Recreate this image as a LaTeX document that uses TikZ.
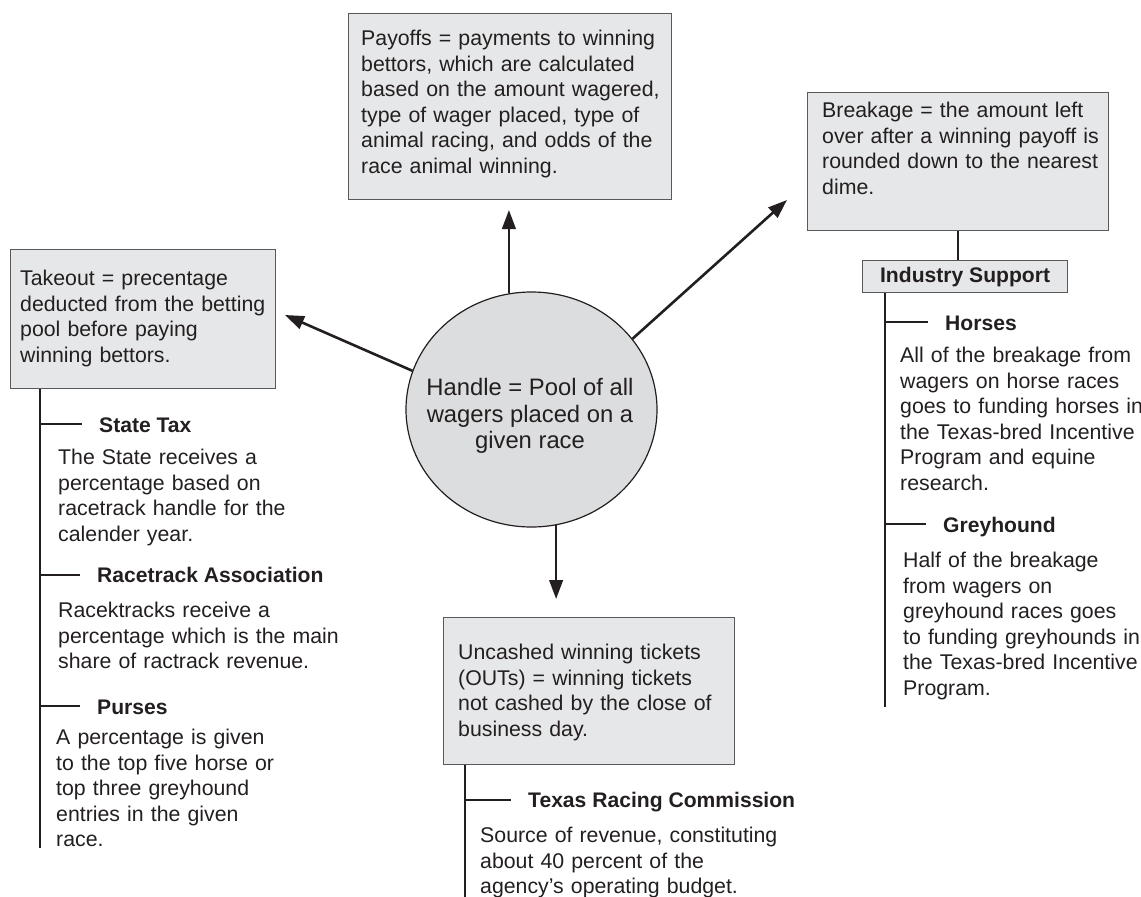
\documentclass[tikz,border=0pt]{standalone}
\usepackage{fontspec}
\setmainfont{Liberation Sans}
\usetikzlibrary{arrows.meta,shapes.geometric}
\definecolor{ink}{HTML}{231F20}
\definecolor{boxfill}{HTML}{E6E7E8}
\definecolor{hubfill}{HTML}{DCDDDE}
\definecolor{boxline}{HTML}{58595B}

\begin{document}
\begin{tikzpicture}[x=1pt, y=-1pt,
		box/.style={draw=boxline, fill=boxfill, line width=1.2pt, anchor=north west, inner sep=0, text=ink},
		txt/.style={anchor=base west, inner sep=0, align=left, text width=330pt, text=ink, font=\fontsize{21.3}{25.5}\selectfont},
		lbl/.style={anchor=base west, inner sep=0, text height=15.3pt, text depth=0pt, text=ink, font=\fontsize{21.1}{25}\selectfont\bfseries},
		arr/.style={-{Triangle[length=19pt, width=13.5pt]}, line width=2.6pt, draw=ink},
		tree/.style={line width=2pt, draw=ink},
		branch/.style={tree, shorten >=17pt}]
		\useasboundingbox (0,0) rectangle (1141,897);

		\node[box, minimum width=265pt, minimum height=139pt] (takeout) at (10,249) {};
		\node[box, minimum width=323pt, minimum height=186pt] (payoffs) at (348,13) {};
		\node[box, minimum width=301pt, minimum height=138pt] (breakage) at (807,92) {};
		\node[box, minimum width=291pt, minimum height=147pt] (uncashed) at (443,617) {};
		\node[box, minimum width=205pt, minimum height=32pt, font=\fontsize{21.1}{25}\selectfont\bfseries] (industry) at (862,260) {Industry Support};
		\node[ellipse, draw=ink, fill=hubfill, line width=1.2pt, minimum width=251pt, minimum height=235pt] (handle) at (531.5,409.5) {};

		\node[txt] (takeouttxt) at (20,285.5) {Takeout = precentage\\deducted from the betting\\pool before paying\\winning bettors.};
		\node[txt] (payoffstxt) at (361,45.5) {Payoffs = payments to winning\\bettors, which are calculated\\based on the amount wagered,\\type of wager placed, type of\\animal racing, and odds of the\\race animal winning.};
		\node[txt] (breakagetxt) at (822,117.5) {Breakage = the amount left\\over after a winning payoff is\\rounded down to the nearest\\dime.};
		\node[txt] (uncashedtxt) at (458,659.5) {Uncashed winning tickets\\(OUTs) = winning tickets\\not cashed by the close of\\business day.};
		\node[align=center, inner sep=0, text=ink, font=\fontsize{23.8}{26.5}\selectfont] (handletxt) at (530,416) {Handle = Pool of all\\wagers placed on a\\given race};

		\node[lbl] (statetax) at (99,432) {State Tax};
		\node[txt] (statetaxtxt) at (58,464.5) {The State receives a\\percentage based on\\racetrack handle for the\\calender year.};
		\node[lbl] (racetrack) at (97,582.5) {Racetrack Association};
		\node[txt] (racetracktxt) at (58,617.5) {Racektracks receive a\\percentage which is the main\\share of ractrack revenue.};
		\node[lbl] (purses) at (97,714) {Purses};
		\node[txt] (pursestxt) at (56,744.5) {A percentage is given\\to the top five horse or\\top three greyhound\\entries in the given\\race.};

		\node[lbl] (horses) at (945,330) {Horses};
		\node[txt] (horsestxt) at (900,362.5) {All of the breakage from\\wagers on horse races\\goes to funding horses in\\the Texas-bred Incentive\\Program and equine\\research.};
		\node[lbl] (greyhound) at (943,532) {Greyhound};
		\node[txt] (greyhoundtxt) at (903,567.5) {Half of the breakage\\from wagers on\\greyhound races goes\\to funding greyhounds in\\the Texas-bred Incentive\\Program.};

		\node[lbl] (commission) at (528,807.5) {Texas Racing Commission};
		\node[txt] (commissiontxt) at (480,842.5) {Source of revenue, constituting\\about 40 percent of the\\agency’s operating budget.};

		\coordinate (uptip) at (508,210);
		\coordinate (lefttip) at (285,315);
		\coordinate (righttip) at (787,200);
		\coordinate (downtip) at (557,599);
		\draw[arr] (handle.101) -- (handle.101 |- uptip);
		\draw[arr] (handle.162) -- (lefttip);
		\draw[arr] (handle.35) -- (righttip);
		\draw[arr] (handle.-78) -- (handle.-78 |- downtip);

		\coordinate (leftend) at (40,848);
		\coordinate (rightend) at (885,707);
		\coordinate (bottomend) at (465,897);
		\draw[tree] (takeout.south -| leftend) -- (leftend);
		\draw[branch] (statetax.west -| leftend) -- (statetax.west);
		\draw[branch] (racetrack.west -| leftend) -- (racetrack.west);
		\draw[branch] (purses.west -| leftend) -- (purses.west);

		\draw[tree] (breakage.south) -- (breakage.south |- industry.north);
		\draw[tree] (industry.south -| rightend) -- (rightend);
		\draw[branch] (horses.west -| rightend) -- (horses.west);
		\draw[branch] (greyhound.west -| rightend) -- (greyhound.west);

		\draw[tree] (uncashed.south -| bottomend) -- (bottomend);
		\draw[branch] (commission.west -| bottomend) -- (commission.west);
	\end{tikzpicture}
\end{document}
